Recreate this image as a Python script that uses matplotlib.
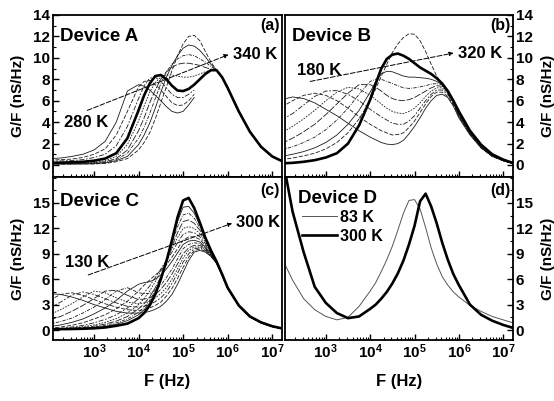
import numpy as np
import matplotlib
matplotlib.use("Agg")
import matplotlib.pyplot as plt
from matplotlib.ticker import FixedLocator, MultipleLocator, LogLocator, FuncFormatter, NullFormatter

plt.rcParams['font.family'] = ['Liberation Sans', 'DejaVu Sans']
plt.rcParams['font.weight'] = 'bold'
plt.rcParams['mathtext.fontset'] = 'custom'
for k in ('rm', 'it', 'bf', 'sf'):
    plt.rcParams['mathtext.' + k] = 'Liberation Sans:bold'
plt.rcParams['mathtext.default'] = 'rm'

nan = np.nan

log_f = [2.0, 2.25, 2.5, 2.75, 3.0, 3.25, 3.5, 3.75,
         4.0, 4.125, 4.25, 4.375, 4.5, 4.625, 4.75, 4.875, 5.0, 5.125,
         5.25, 5.375, 5.5, 5.625, 5.75, 5.875, 6.0,
         6.25, 6.5, 6.75, 7.0, 7.25]

# Device A, 280 K ... 340 K (G/F in nS/Hz)
devA_thin = [
    [0.6, 0.65, 0.8, 1.0, 1.4, 2.2, 4.0, 6.9, 7.5, 7.35, 7.0, 6.5, 6.0, 5.45, 5.0, 4.85, 5.0, 5.6, 6.3,
     nan, nan, nan, nan, nan, nan, nan, nan, nan, nan, nan],
    [0.45, 0.5, 0.55, 0.7, 1.0, 1.5, 2.8, 5.0, 7.3, 7.8, 7.9, 7.5, 7.0, 6.4, 5.8, 5.55, 5.6, 6.0, 6.6,
     nan, nan, nan, nan, nan, nan, nan, nan, nan, nan, nan],
    [0.35, 0.38, 0.42, 0.5, 0.7, 1.0, 1.8, 3.6, 6.2, 7.4, 8.1, 8.2, 7.8, 7.2, 6.6, 6.3, 6.3, 6.6, 7.0,
     nan, nan, nan, nan, nan, nan, nan, nan, nan, nan, nan],
    [0.15, 0.15, 0.18, 0.2, 0.25, 0.4, 0.8, 1.9, 4.1, 5.5, 6.8, 7.7, 8.2, 8.4, 8.4, 8.3, 8.2, 8.2, 8.3,
     8.5, 8.7, 8.85, 8.85, 8.2, 7.2, 5.0, 3.1, 1.7, 0.8, 0.3],
    [0.1, 0.1, 0.12, 0.15, 0.2, 0.3, 0.6, 1.4, 3.2, 4.4, 5.8, 7.0, 8.0, 8.7, 9.1, 9.4, 9.5, 9.5, 9.4,
     9.3, 9.1, 8.95, 8.85, 8.2, 7.2, 5.0, 3.1, 1.7, 0.8, 0.3],
    [0.1, 0.1, 0.1, 0.12, 0.15, 0.25, 0.5, 1.1, 2.5, 3.5, 4.8, 6.2, 7.6, 8.7, 9.4, 9.9, 10.2, 10.3, 10.2,
     9.9, 9.6, 9.2, 8.85, 8.2, 7.2, 5.0, 3.1, 1.7, 0.8, 0.3],
    [0.1, 0.1, 0.1, 0.1, 0.12, 0.2, 0.4, 0.8, 1.9, 2.8, 3.9, 5.3, 6.8, 8.2, 9.3, 10.2, 10.9, 11.2, 11.1,
     10.7, 10.1, 9.4, 8.85, 8.2, 7.2, 5.0, 3.1, 1.7, 0.8, 0.3],
    [0.1, 0.1, 0.1, 0.1, 0.1, 0.15, 0.3, 0.6, 1.4, 2.1, 3.0, 4.3, 5.8, 7.3, 8.8, 10.2, 11.3, 12.0, 12.1,
     11.6, 10.6, 9.6, 8.85, 8.2, 7.2, 5.0, 3.1, 1.7, 0.8, 0.3],
]
devA_bold = [0.2, 0.22, 0.25, 0.3, 0.4, 0.6, 1.1, 2.5, 5.1, 6.5, 7.6, 8.3, 8.4, 8.0, 7.4, 6.95, 6.9, 7.1, 7.5,
             8.0, 8.5, 8.85, 8.85, 8.2, 7.2, 5.0, 3.1, 1.7, 0.8, 0.3]

# Device B, 180 K ... 320 K
devB_thin = [
    [6.1, 6.35, 6.2, 5.8, 5.2, 4.6, 3.9, 3.2, 2.6, 2.35, 2.1, 1.95, 1.9, 2.0, 2.3, 2.9, 3.6, 4.4, 5.3,
     6.0, 6.5, 6.6, 6.3, 5.5, 4.4, 2.8, 1.6, 0.8, 0.4, 0.1],
    [5.4, 6.0, 6.5, 6.7, 6.5, 6.0, 5.3, 4.5, 3.8, 3.5, 3.2, 3.0, 2.8, 2.85, 3.0, 3.5, 4.1, 4.9, 5.7,
     6.4, 6.8, 6.8, 6.4, 5.6, 4.5, 2.85, 1.6, 0.8, 0.4, 0.1],
    [4.2, 4.8, 5.6, 6.4, 6.9, 6.95, 6.6, 6.0, 5.2, 4.85, 4.5, 4.2, 3.9, 3.8, 3.8, 4.1, 4.6, 5.3, 6.0,
     6.6, 7.0, 7.0, 6.6, 5.7, 4.55, 2.9, 1.65, 0.85, 0.4, 0.1],
    [3.0, 3.6, 4.3, 5.1, 6.0, 6.8, 7.25, 7.1, 6.5, 6.1, 5.7, 5.3, 5.0, 4.85, 4.8, 5.0, 5.3, 5.8, 6.4,
     6.9, 7.2, 7.2, 6.7, 5.8, 4.6, 2.9, 1.65, 0.85, 0.4, 0.1],
    [2.0, 2.5, 3.1, 3.8, 4.7, 5.7, 6.7, 7.5, 7.5, 7.25, 6.9, 6.5, 6.2, 6.05, 6.0, 6.1, 6.3, 6.6, 6.9,
     7.2, 7.4, 7.35, 6.8, 5.9, 4.65, 2.95, 1.7, 0.85, 0.4, 0.1],
    [1.4, 1.7, 2.1, 2.6, 3.3, 4.2, 5.3, 6.6, 7.8, 8.0, 8.0, 7.8, 7.6, 7.4, 7.2, 7.15, 7.2, 7.3, 7.4,
     7.55, 7.6, 7.5, 6.9, 6.0, 4.7, 3.0, 1.7, 0.9, 0.4, 0.1],
    [0.8, 1.0, 1.25, 1.6, 2.1, 2.8, 3.8, 5.1, 6.8, 7.8, 8.5, 8.75, 8.7, 8.5, 8.3, 8.2, 8.2, 8.15, 8.1,
     8.0, 7.8, 7.5, 7.0, 6.0, 4.8, 3.05, 1.7, 0.9, 0.4, 0.1],
    [0.5, 0.65, 0.85, 1.1, 1.5, 2.1, 3.0, 4.3, 6.0, 7.1, 8.3, 9.4, 10.5, 11.3, 11.9, 12.25, 12.2, 11.6, 10.6,
     9.4, 8.3, 7.5, 6.8, 5.9, 4.9, 3.1, 1.8, 0.95, 0.45, 0.12],
]
devB_bold = [0.15, 0.2, 0.3, 0.45, 0.7, 1.1, 2.0, 3.7, 6.1, 7.6, 9.0, 9.9, 10.3, 10.4, 10.2, 9.9, 9.5, 9.1, 8.8,
             8.5, 8.1, 7.6, 6.9, 6.0, 5.0, 3.2, 1.9, 1.0, 0.5, 0.15]

# Device C, 130 K ... 300 K
devC_thin = [
    [4.3, 4.2, 3.9, 3.5, 3.0, 2.6, 2.2, 2.0, 2.0, 2.05, 2.2, 2.45, 2.8, 3.4, 4.2, 5.4, 6.8, 8.2, 9.2,
     9.4, 9.2, 8.7, 7.9, 6.5, 4.9, 2.85, 1.55, 0.85, 0.4, 0.12],
    [3.5, 4.2, 4.4, 4.1, 3.6, 3.1, 2.7, 2.4, 2.3, 2.4, 2.6, 2.9, 3.3, 4.0, 4.9, 6.1, 7.4, 8.6, 9.4,
     9.55, 9.3, 8.7, 7.9, 6.5, 4.9, 2.85, 1.55, 0.85, 0.4, 0.12],
    [2.6, 3.3, 4.1, 4.5, 4.2, 3.7, 3.2, 2.8, 2.7, 2.8, 3.0, 3.35, 3.8, 4.5, 5.5, 6.7, 8.0, 9.0, 9.6,
     9.7, 9.4, 8.75, 7.9, 6.5, 4.9, 2.85, 1.55, 0.85, 0.4, 0.12],
    [1.8, 2.4, 3.1, 3.9, 4.6, 4.4, 3.8, 3.3, 3.1, 3.2, 3.4, 3.8, 4.3, 5.0, 6.0, 7.2, 8.5, 9.4, 9.8,
     9.8, 9.5, 8.8, 7.9, 6.5, 4.9, 2.85, 1.55, 0.85, 0.4, 0.12],
    [1.2, 1.6, 2.2, 2.9, 3.7, 4.6, 4.7, 4.1, 3.6, 3.65, 3.8, 4.2, 4.8, 5.6, 6.6, 7.8, 9.0, 9.7, 10.0,
     10.0, 9.6, 8.85, 7.95, 6.5, 4.9, 2.85, 1.55, 0.85, 0.4, 0.12],
    [0.7, 1.0, 1.4, 2.0, 2.7, 3.6, 4.6, 5.0, 4.4, 4.3, 4.3, 4.7, 5.3, 6.2, 7.2, 8.4, 9.6, 10.1, 10.3,
     10.2, 9.7, 8.9, 8.0, 6.5, 4.95, 2.85, 1.55, 0.85, 0.4, 0.12],
    [0.4, 0.6, 0.9, 1.3, 1.9, 2.6, 3.5, 4.6, 5.4, 5.6, 5.7, 6.0, 6.5, 7.2, 8.1, 9.1, 10.1, 10.5, 10.6,
     10.4, 9.8, 9.0, 8.0, 6.5, 4.95, 2.9, 1.6, 0.85, 0.4, 0.12],
    [0.2, 0.35, 0.55, 0.85, 1.3, 1.8, 2.5, 3.4, 4.6, 5.3, 5.9, 6.5, 7.0, 7.7, 8.6, 9.6, 10.6, 11.0, 11.0,
     10.7, 10.0, 9.1, 8.0, 6.5, 4.95, 2.9, 1.6, 0.85, 0.4, 0.12],
    [0.1, 0.2, 0.35, 0.55, 0.85, 1.25, 1.8, 2.6, 3.7, 4.4, 5.2, 6.2, 7.2, 8.2, 9.2, 10.3, 11.3, 11.6, 11.5,
     11.0, 10.2, 9.2, 8.0, 6.5, 5.0, 2.9, 1.6, 0.9, 0.45, 0.12],
    [0.1, 0.15, 0.25, 0.4, 0.6, 0.9, 1.35, 2.0, 3.0, 3.7, 4.6, 5.7, 7.0, 8.3, 9.6, 10.9, 12.0, 12.2, 12.0,
     11.4, 10.4, 9.3, 8.0, 6.5, 5.0, 2.9, 1.6, 0.9, 0.45, 0.12],
    [0.1, 0.12, 0.2, 0.3, 0.45, 0.7, 1.05, 1.6, 2.5, 3.1, 3.9, 5.0, 6.3, 8.0, 9.9, 11.5, 12.8, 13.0, 12.6,
     11.8, 10.6, 9.3, 8.0, 6.5, 5.0, 2.9, 1.6, 0.9, 0.45, 0.15],
    [0.1, 0.1, 0.15, 0.22, 0.35, 0.55, 0.85, 1.3, 2.1, 2.7, 3.5, 4.6, 6.1, 8.0, 10.2, 12.2, 13.6, 13.8, 13.2,
     12.1, 10.7, 9.4, 8.05, 6.5, 5.0, 2.9, 1.6, 0.9, 0.45, 0.15],
    [0.1, 0.1, 0.12, 0.18, 0.28, 0.42, 0.68, 1.1, 1.8, 2.4, 3.2, 4.4, 6.0, 8.1, 10.4, 12.8, 14.5, 14.6, 13.8,
     12.4, 10.8, 9.4, 8.05, 6.5, 5.0, 2.9, 1.6, 0.9, 0.45, 0.15],
]
devC_bold = [0.1, 0.1, 0.12, 0.15, 0.2, 0.3, 0.5, 0.75, 1.4, 2.0, 2.9, 4.2, 6.0, 8.1, 10.6, 13.3, 15.3, 15.6, 14.4,
             12.7, 10.9, 9.4, 8.1, 6.6, 5.0, 2.9, 1.6, 0.9, 0.45, 0.15]

# Device D
devD_83K = [8.6, 5.9, 3.7, 2.4, 1.6, 1.2, 1.5, 2.8, 4.6, 5.6, 6.9, 8.3, 9.9, 11.8, 13.8, 15.3, 15.4, 14.3, 12.1,
            9.7, 7.8, 6.3, 5.3, 4.5, 3.9, 2.9, 2.2, 1.6, 1.2, 0.8]
devD_300K = [21.0, 14.0, 9.2, 5.1, 3.2, 2.0, 1.4, 1.6, 2.5, 3.0, 3.7, 4.5, 5.5, 6.7, 8.2, 10.1, 12.3, 15.2, 16.1,
             14.6, 12.6, 10.3, 8.3, 6.6, 5.3, 3.0, 1.8, 1.1, 0.6, 0.2]

freq = 10 ** np.array(log_f)

thin_styles = ['-', (0, (5, 2)), (0, (6, 2, 2, 2)), (0, (2, 1.5)), (0, (8, 2)), (0, (4, 1.5, 1, 1.5))]
THIN_LW = 0.6
BOLD_LW = 1.9

W, H = 554, 401
fig = plt.figure(figsize=(W / 100, H / 100), dpi=100)


def rect(x0, x1, y0, y1):
    return [x0 / W, 1 - y1 / H, (x1 - x0) / W, (y1 - y0) / H]


ax_a = fig.add_axes(rect(53, 282, 15, 177))
ax_b = fig.add_axes(rect(285, 513, 15, 177))
ax_c = fig.add_axes(rect(53, 282, 177, 340))
ax_d = fig.add_axes(rect(285, 513, 177, 340))


def log_label(v, pos):
    return r'$10^{%d}$' % int(round(np.log10(v)))


def style(ax, top_row, right_side):
    ax.set_xscale('log')
    ax.set_xlim(10 ** 2.08, 10 ** 7.22)
    ax.xaxis.set_major_locator(LogLocator(base=10, numticks=10))
    ax.xaxis.set_minor_locator(LogLocator(base=10, subs=np.arange(2, 10), numticks=20))
    ax.xaxis.set_minor_formatter(NullFormatter())
    if top_row:
        ax.set_ylim(-1.12, 14)
        ax.yaxis.set_major_locator(FixedLocator([0, 2, 4, 6, 8, 10, 12, 14]))
        ax.yaxis.set_minor_locator(MultipleLocator(1))
        ax.tick_params(axis='x', labelbottom=False)
    else:
        ax.set_ylim(-1.18, 18.07)
        ax.yaxis.set_major_locator(FixedLocator([0, 3, 6, 9, 12, 15]))
        ax.yaxis.set_minor_locator(MultipleLocator(1.5))
        ax.xaxis.set_major_formatter(FuncFormatter(log_label))
        ax.set_xlabel('F (Hz)', fontsize=12, fontweight='bold', labelpad=9)
    ax.tick_params(which='both', direction='in', labelsize=11, pad=2)
    ax.tick_params(which='major', length=4, width=1)
    ax.tick_params(which='minor', length=2, width=0.8)
    if right_side:
        ax.yaxis.tick_right()
        ax.yaxis.set_label_position('right')
    ax.set_ylabel('G/F (nS/Hz)', fontsize=11, fontweight='bold', labelpad=6)
    for sp in ax.spines.values():
        sp.set_linewidth(1.3)


def draw_family(ax, thin, bold):
    for i, y in enumerate(thin):
        ax.plot(freq, y, color='#1a1a1a', lw=THIN_LW, ls=thin_styles[i % len(thin_styles)])
    ax.plot(freq, bold, color='black', lw=BOLD_LW, solid_capstyle='round', solid_joinstyle='round')


def temp_arrow(ax, start, end):
    ax.annotate('', xy=end, xytext=start,
                arrowprops=dict(arrowstyle='-|>', color='black', lw=0.7,
                                linestyle=(0, (5, 2)), mutation_scale=6,
                                shrinkA=0, shrinkB=0))


draw_family(ax_a, devA_thin, devA_bold)
draw_family(ax_b, devB_thin, devB_bold)
draw_family(ax_c, devC_thin, devC_bold)
ax_d.plot(freq, devD_83K, color='#555555', lw=0.7, label='83 K')
ax_d.plot(freq, devD_300K, color='black', lw=BOLD_LW, solid_joinstyle='round', label='300 K')

style(ax_a, True, False)
style(ax_b, True, True)
style(ax_c, False, False)
style(ax_d, False, True)

# device names and panel letters
for ax, name, ny, nx, letter, ly in [
        (ax_a, 'Device A', 0.866, 0.03, '(a)', 0.935),
        (ax_b, 'Device B', 0.866, 0.03, '(b)', 0.935),
        (ax_c, 'Device C', 0.85, 0.03, '(c)', 0.92),
        (ax_d, 'Device D', 0.87, 0.055, '(d)', 0.92)]:
    ax.text(nx, ny, name, transform=ax.transAxes, fontsize=13.5,
            fontweight='bold', ha='left', va='center')
    ax.text(0.99, ly, letter, transform=ax.transAxes, fontsize=11.5,
            fontweight='bold', ha='right', va='center')

# temperature arrows
temp_arrow(ax_a, (10 ** 2.85, 5.1), (10 ** 6.02, 10.3))
ax_a.text(10 ** 2.32, 4.0, '280 K', fontsize=12, fontweight='bold', va='center', ha='left')
ax_a.text(10 ** 6.12, 10.3, '340 K', fontsize=12, fontweight='bold', va='center', ha='left')

temp_arrow(ax_b, (10 ** 2.65, 7.8), (10 ** 5.88, 10.45))
ax_b.text(10 ** 2.35, 8.8, '180 K', fontsize=12, fontweight='bold', va='center', ha='left')
ax_b.text(10 ** 5.97, 10.45, '320 K', fontsize=12, fontweight='bold', va='center', ha='left')

temp_arrow(ax_c, (10 ** 2.87, 6.5), (10 ** 6.1, 12.6))
ax_c.text(10 ** 2.34, 8.0, '130 K', fontsize=12, fontweight='bold', va='center', ha='left')
ax_c.text(10 ** 6.19, 12.7, '300 K', fontsize=12, fontweight='bold', va='center', ha='left')

ax_d.legend(loc='upper left', bbox_to_anchor=(0.075, 0.80), frameon=False,
            fontsize=11.5, handlelength=2.2, handletextpad=0.2,
            labelspacing=0.25, borderpad=0, borderaxespad=0)

fig.savefig('out.png', dpi=100)
